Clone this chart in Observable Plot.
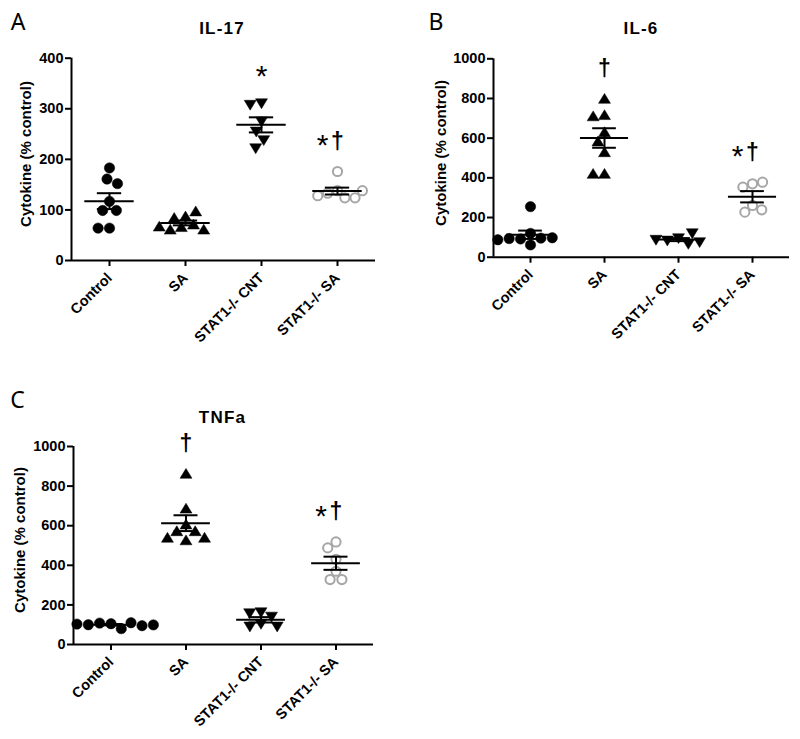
<!DOCTYPE html>
<html>
<head>
<meta charset="utf-8">
<script src="https://cdn.jsdelivr.net/npm/d3@7"></script>
<script src="https://cdn.jsdelivr.net/npm/@observablehq/plot@0.6"></script>
<style>
  body { margin: 0; background: #fff; }
  #root { position: relative; width: 800px; height: 739px; font-family: "Liberation Sans", Arial, sans-serif; color: #000; }
  .panel { position: absolute; }
  .letter { position: absolute; font-family: "Noto Sans", sans-serif; font-size: 23px; line-height: 1; transform: translate(-50%, -50%); }
  .title { position: absolute; font-weight: bold; font-size: 17px; letter-spacing: 1.2px; line-height: 1; transform: translate(-50%, -50%); white-space: nowrap; }
  .ylab { position: absolute; font-weight: bold; font-size: 15px; line-height: 1; white-space: nowrap; transform: translate(-50%, -50%) rotate(-90deg); }
  svg g[aria-label$="axis tick"] { stroke-width: 2px; }
  svg g[aria-label="fx-axis tick label"] { font-size: 14.5px; }
  svg g[aria-label="y-axis tick label"] { font-size: 14.5px; }
</style>
</head>
<body>
<div id="root"></div>
<script>
const groups = ["Control", "SA", "STAT1-/- CNT", "STAT1-/- SA"];
const yLabel = "Cytokine (% control)";

// Panel A: IL-17
const il17Title = "IL-17";
const il17Control = [183, 161, 152, 117, 99, 99, 64, 64];
const il17SA = [87, 84, 97, 71, 66, 61, 61, 67];
const il17Stat1Cnt = [311, 308, 275, 255, 238, 222];
const il17Stat1SA = [176, 138, 133, 124, 124, 128, 138];
const il17Notes = ["", "", "*", "*†"];
const il17Ticks = [0, 100, 200, 300, 400];

// Panel B: IL-6
const il6Title = "IL-6";
const il6Control = [255, 62, 120, 92, 96, 94, 98, 88];
const il6SA = [798, 716, 710, 630, 583, 529, 420, 420];
const il6Stat1Cnt = [96, 84, 67, 76, 88, 121];
const il6Stat1SA = [370, 353, 378, 261, 227, 239];
const il6Notes = ["", "†", "", "*†"];
const il6Ticks = [0, 200, 400, 600, 800, 1000];

// Panel C: TNFa
const tnfTitle = "TNFa";
const tnfControl = [105, 108, 80, 110, 100, 95, 103, 99];
const tnfSA = [862, 686, 606, 572, 572, 539, 526, 539];
const tnfStat1Cnt = [163, 158, 141, 104, 91, 91];
const tnfStat1SA = [518, 488, 430, 370, 328, 328];
const tnfNotes = ["", "†", "", "*†"];
const tnfTicks = [0, 200, 400, 600, 800, 1000];

const grey = "#a6a6a6";
const triUp = {
  draw(ctx, size) {
    const r = Math.sqrt(size / Math.PI), w = r * 1.15, h = r * 1.9;
    ctx.moveTo(0, -h * 0.55); ctx.lineTo(w, h * 0.45); ctx.lineTo(-w, h * 0.45); ctx.closePath();
  }
};
const triDown = {
  draw(ctx, size) {
    const r = Math.sqrt(size / Math.PI), w = r * 1.15, h = r * 1.9;
    ctx.moveTo(0, h * 0.55); ctx.lineTo(w, -h * 0.45); ctx.lineTo(-w, -h * 0.45); ctx.closePath();
  }
};

function makePanel(cfg) {
  const {values, notes, ticks, width, height, mt, mr, mb, ml} = cfg;
  const yMax = ticks[ticks.length - 1];
  const data = groups.map((g, i) => values[i].map(v => ({group: g, value: v})));
  const stats = groups.map((g, i) => {
    const v = values[i];
    const m = d3.mean(v);
    const se = d3.deviation(v) / Math.sqrt(v.length);
    const note = notes[i];
    return {group: g, mean: m, lo: m - se, hi: m + se, max: d3.max(v),
            star: note.includes("*"), dagger: note.includes("†")};
  });
  const symbols = ["circle", triUp, triDown, "circle"];
  const dots = data.map((d, i) => Plot.dot(d, Plot.dodgeX("middle", {
    fx: "group", y: "value",
    r: i === 3 ? 4.6 : 5.2, padding: 0.2,
    symbol: symbols[i],
    fill: i === 3 ? "white" : "black",
    stroke: i === 3 ? grey : "black",
    strokeWidth: i === 3 ? 2 : 0.5
  })));
  return Plot.plot({
    width, height,
    marginTop: mt, marginRight: mr, marginBottom: mb, marginLeft: ml,
    style: {fontFamily: "'Liberation Sans', Arial, sans-serif", fontSize: "14.5px", fontWeight: "bold", color: "black", background: "white", overflow: "visible"},
    fx: {domain: groups, padding: 0, axis: "bottom", label: null, tickRotate: -45, tickSize: 6, tickPadding: 9},
    x: {domain: [-1, 1], axis: null},
    y: {domain: [0, yMax], ticks, tickFormat: d => String(d), tickSize: 6, tickPadding: 2, label: null, axis: "left"},
    marks: [
      Plot.ruleY([0], {strokeWidth: 2}),
      Plot.ruleX([groups[0]], {fx: d => d, x: -1, y1: 0, y2: yMax, strokeWidth: 2}),
      ...dots,
      Plot.ruleY(stats, {fx: "group", y: "mean", x1: -0.65, x2: 0.65, strokeWidth: 2}),
      Plot.ruleY(stats, {fx: "group", y: "lo", x1: -0.32, x2: 0.32, strokeWidth: 2}),
      Plot.ruleY(stats, {fx: "group", y: "hi", x1: -0.32, x2: 0.32, strokeWidth: 2}),
      Plot.ruleX(stats, {fx: "group", x: 0, y1: "lo", y2: "hi", strokeWidth: 2}),
      Plot.text(stats.filter(d => d.dagger), {fx: "group", x: 0, y: "max", text: () => "†", dy: -30, fontSize: 23, fontWeight: "bold"}),
      Plot.text(stats.filter(d => d.star && d.dagger), {fx: "group", x: 0, y: "max", text: () => "*", dx: -15, dy: -26, fontSize: 30, fontWeight: "normal"}),
      Plot.text(stats.filter(d => d.star && !d.dagger), {fx: "group", x: 0, y: "max", text: () => "*", dy: -27, fontSize: 30, fontWeight: "normal"})
    ]
  });
}

const root = document.getElementById("root");
function place(el, left, top) {
  const wrap = document.createElement("div");
  wrap.className = "panel";
  wrap.style.left = left + "px";
  wrap.style.top = top + "px";
  wrap.appendChild(el);
  root.appendChild(wrap);
}
function addText(cls, text, x, y) {
  const d = document.createElement("div");
  d.className = cls;
  d.textContent = text;
  d.style.left = x + "px";
  d.style.top = y + "px";
  root.appendChild(d);
}

place(makePanel({
  values: [il17Control, il17SA, il17Stat1Cnt, il17Stat1SA], notes: il17Notes, ticks: il17Ticks,
  width: 400, height: 370, mt: 57.7, mr: 24, mb: 110, ml: 69
}), 0, 0);
place(makePanel({
  values: [il6Control, il6SA, il6Stat1Cnt, il6Stat1SA], notes: il6Notes, ticks: il6Ticks,
  width: 400, height: 370, mt: 58.3, mr: 10.3, mb: 113.3, ml: 91.7
}), 400, 0);
place(makePanel({
  values: [tnfControl, tnfSA, tnfStat1Cnt, tnfStat1SA], notes: tnfNotes, ticks: tnfTicks,
  width: 400, height: 359, mt: 66, mr: 26.3, mb: 95, ml: 72.3
}), 0, 380);

addText("letter", "A", 18, 20.5);
addText("letter", "B", 436, 20.5);
addText("letter", "C", 17.5, 398.5);
addText("title", il17Title, 222, 27.5);
addText("title", il6Title, 641, 27.5);
addText("title", tnfTitle, 222.5, 417);
addText("ylab", yLabel, 25, 154);
addText("ylab", yLabel, 439.5, 153);
addText("ylab", yLabel, 18.5, 540);
</script>
</body>
</html>
